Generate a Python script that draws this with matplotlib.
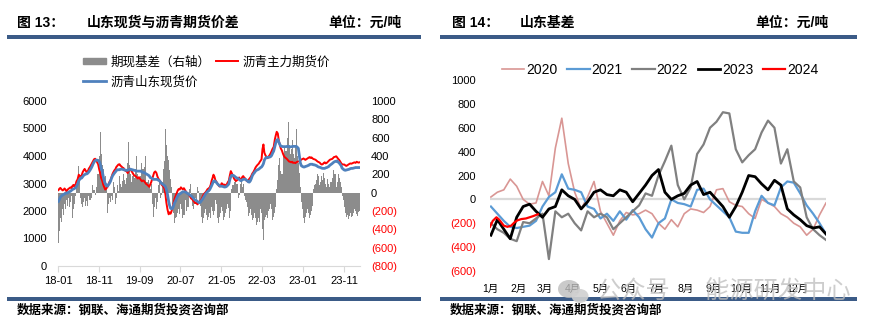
import numpy as np
import pandas as pd
import matplotlib
matplotlib.use("Agg")
import matplotlib.pyplot as plt
import matplotlib.dates as mdates
from matplotlib.patches import Rectangle, Ellipse, Patch
from matplotlib.lines import Line2D

plt.rcParams["font.family"] = ["Liberation Sans", "Noto Sans CJK SC"]

# ---------------- 图13: 山东现货与沥青期货价差 (weekly, 2018-01 .. 2024-02) -----------------
# four observations per month (1st, 8th, 15th, 22nd)
futures = [
    2760, 2810, 2840, 2790, 2750, 2770, 2820, 2780, 2720, 2760, 2800, 2830,
    2860, 2830, 2910, 2950, 2890, 2960, 3080, 3150, 3320, 3280, 3220, 3300,
    3420, 3480, 3530, 3460, 3400, 3450, 3540, 3600, 3680, 3750, 3820, 3880,
    3900, 3850, 3780, 3700, 3500, 3380, 3200, 3100, 2950, 2860, 2780, 2820,
    2880, 2950, 3050, 3120, 3250, 3350, 3420, 3480, 3520, 3600, 3640, 3690,
    3700, 3650, 3620, 3580, 3560, 3500, 3460, 3440, 3380, 3450, 3540, 3500,
    3440, 3380, 3320, 3280, 3260, 3220, 3180, 3230, 3170, 3120, 3080, 3110,
    3090, 3040, 2990, 2960, 2920, 2880, 2960, 3050, 3180, 3300, 3400, 3440,
    3380, 3260, 3180, 3120, 3040, 2960, 2920, 2880, 2800, 2600, 2300, 2050,
    1880, 1950, 1900, 2000, 2150, 2300, 2450, 2560, 2680, 2750, 2800, 2780,
    2860, 2820, 2790, 2830, 2760, 2700, 2660, 2630, 2580, 2520, 2460, 2430,
    2380, 2330, 2290, 2310, 2240, 2280, 2330, 2380, 2430, 2500, 2580, 2640,
    2680, 2730, 2790, 2820, 2860, 2950, 3100, 3200, 3320, 3250, 3120, 3060,
    2980, 2930, 2890, 2920, 3010, 2980, 2940, 2960, 2910, 2970, 3040, 3100,
    3300, 3450, 3380, 3280, 3180, 3130, 3090, 3120, 3180, 3220, 3160, 3140,
    3230, 3270, 3220, 3180, 3110, 3080, 3120, 3170, 3220, 3280, 3360, 3420,
    3500, 3580, 3630, 3680, 3720, 3780, 3830, 3880, 4250, 4420, 4120, 4020,
    3960, 3920, 3980, 4030, 4100, 4180, 4260, 4330, 4600, 4750, 4880, 4820,
    4550, 4420, 4280, 4200, 4080, 4000, 3950, 3920, 3880, 3840, 3800, 3790,
    3770, 3790, 3750, 3760, 3740, 3770, 3790, 3800, 3810, 3840, 3870, 3890,
    3910, 3880, 3860, 3890, 3920, 3940, 3960, 3930, 3950, 3920, 3890, 3880,
    3860, 3830, 3800, 3780, 3760, 3720, 3690, 3700, 3750, 3770, 3730, 3750,
    3790, 3820, 3860, 3880, 3890, 3920, 3960, 3970, 3990, 3950, 3900, 3860,
    3800, 3740, 3700, 3690, 3690, 3660, 3640, 3660, 3690, 3710, 3730, 3720,
    3740, 3760, 3770, 3750, 3790, 3770, 3760, 3770,
]
spot = [
    2350, 2420, 2500, 2550, 2580, 2600, 2620, 2650, 2650, 2650, 2680, 2700,
    2720, 2750, 2780, 2800, 2820, 2850, 2900, 2980, 3100, 3150, 3200, 3200,
    3250, 3300, 3320, 3350, 3350, 3380, 3420, 3480, 3550, 3620, 3700, 3780,
    3830, 3850, 3850, 3840, 3800, 3700, 3550, 3450, 3250, 3100, 3000, 2950,
    2900, 2950, 3000, 3080, 3200, 3280, 3330, 3380, 3420, 3470, 3500, 3500,
    3500, 3520, 3520, 3520, 3500, 3500, 3480, 3480, 3480, 3500, 3520, 3520,
    3500, 3500, 3480, 3480, 3460, 3450, 3450, 3450, 3450, 3450, 3420, 3400,
    3400, 3380, 3350, 3330, 3300, 3280, 3220, 3200, 3180, 3150, 3150, 3150,
    3150, 3150, 3120, 3100, 3050, 3000, 2980, 2950, 2920, 2880, 2780, 2600,
    2350, 2200, 2100, 2080, 2100, 2200, 2300, 2380, 2480, 2550, 2600, 2620,
    2650, 2680, 2700, 2700, 2700, 2680, 2650, 2630, 2600, 2580, 2550, 2520,
    2470, 2430, 2400, 2380, 2350, 2320, 2300, 2320, 2380, 2420, 2480, 2550,
    2620, 2660, 2700, 2730, 2780, 2850, 2920, 3000, 3080, 3100, 3080, 3030,
    2980, 2950, 2920, 2900, 2900, 2900, 2880, 2870, 2880, 2900, 2940, 2980,
    3150, 3250, 3300, 3300, 3280, 3250, 3220, 3200, 3180, 3150, 3120, 3100,
    3130, 3150, 3160, 3150, 3120, 3100, 3060, 3050, 3100, 3180, 3280, 3350,
    3400, 3450, 3480, 3500, 3520, 3550, 3580, 3600, 3650, 3720, 3850, 3920,
    3950, 3950, 3950, 3960, 3980, 4020, 4100, 4180, 4350, 4480, 4580, 4600,
    4500, 4420, 4360, 4350, 4340, 4340, 4340, 4340, 4350, 4350, 4330, 4330,
    4340, 4340, 4350, 4350, 4350, 4350, 4320, 4280, 4000, 3750, 3650, 3620,
    3600, 3600, 3620, 3630, 3650, 3660, 3690, 3700, 3700, 3700, 3680, 3680,
    3660, 3650, 3620, 3600, 3590, 3580, 3560, 3550, 3550, 3550, 3570, 3580,
    3600, 3620, 3660, 3690, 3720, 3750, 3780, 3800, 3810, 3820, 3780, 3750,
    3700, 3650, 3560, 3520, 3490, 3480, 3490, 3500, 3510, 3520, 3540, 3550,
    3550, 3560, 3570, 3580, 3580, 3580, 3580, 3580,
]
basis = [
    -550, -420, -280, -320, -180, -240, -120, -180, -80, -140, -60, -160,
    -100, -40, -280, -180, -120, -40, 60, 140, 290, 180, -60, -120,
    -160, -100, -60, -140, -90, -150, -40, -80, -60, 20, 80, 30,
    -20, 60, 140, 200, 400, 660, 420, 300, 260, 150, 180, 90,
    -220, -120, -60, -100, -40, -80, 120, 60, -120, -60, 80, 20,
    180, 100, 60, 130, 200, 140, 100, 160, 320, 550, 300, 200,
    120, 180, 220, 160, 260, 400, 200, 150, 180, 240, 320, 260,
    280, 400, 200, 120, 140, 80, 40, 100, -120, -260, -160, -60,
    -180, -100, 80, 150, -60, -20, 120, 260, 350, 690, 520, 400,
    360, 250, 150, 60, -120, -220, -330, -280, -260, -220, -180, -230,
    -120, -180, -280, -240, -80, -140, -200, -160, 40, 100, -60, -150,
    -180, -120, -60, -100, 60, 20, -80, -140, -260, -330, -280, -220,
    -180, -240, -300, -260, -220, -280, -160, -200, -240, -200, -80, -120,
    -280, -330, -260, -220, -160, -200, -300, -260, -220, -180, -120, -170,
    -280, -200, 40, 80, 120, 80, 140, 100, -60, -20, 100, 140,
    60, 100, -40, -80, -100, -160, -250, -220, -180, -240, -300, -280,
    -220, -280, -350, -320, -280, -320, -180, -220, -400, -520, -300, -260,
    -240, -280, -200, -180, -120, -180, -300, -260, -220, -160, 40, 140,
    300, 380, 240, 200, 320, 420, 500, 460, 600, 770, 520, 420,
    480, 580, 420, 380, 500, 690, 400, 320, 220, 60, -100, -180,
    -280, -330, -260, -220, -180, -220, -280, -240, -200, -140, 40, 80,
    100, 140, 200, 180, 80, 120, 180, 140, 220, 160, 100, 60,
    150, 100, 60, 120, 100, 160, 250, 200, 60, 120, 200, 160,
    120, 60, -40, -80, -160, -220, -260, -240, -290, -250, -220, -260,
    -250, -220, -180, -200, -230, -250, -210, -200,
]
months13 = pd.date_range("2018-01-01", "2024-02-01", freq="MS")
obs_days = (0, 7, 14, 21)
dates13 = pd.DatetimeIndex([m + pd.Timedelta(days=d) for m in months13 for d in obs_days])
end13 = pd.Timestamp("2024-02-29")
ticks13 = pd.date_range("2018-01-01", "2023-11-01", freq="10MS")
legend13 = ["期现基差（右轴）", "沥青山东现货价", "沥青主力期货价"]

# ---------------- 图14: 山东基差 (weekly seasonal) -----------------------------------------
basis_2020 = [20, 60, 80, 170, 110, 0, -40, -30, 150, 30, 430, 680, 300, 60, -80, 20,
              150, -100, -200, -300, -180, -110, -130, -120, -90, -120, -200, -250,
              -170, -230, -120, -80, -90, -110, -60, 80, 90, -20, -50, -60, -120,
              -160, 0, -30, -60, -120, -150, -200, -230, -300, -250, -130, -30]
basis_2021 = [-60, -120, -180, -230, -240, -230, -220, -180, -60, 20, 60, 210, 90, 80,
              60, -60, -80, -160, -120, -180, -100, -170, -90, -150, -250, -320, -200,
              -160, 0, -30, -40, -60, 80, 90, 0, -50, -100, -150, -270, -280, -280,
              -100, 30, -30, -50, 100, 150, 140, 50, -50, -120, -200, -290]
basis_2022 = [-200, -250, -280, -330, -350, -190, -200, -160, -120, -500, -100, -150,
              -120, -200, -260, -100, -150, -120, -150, -250, -200, -150, -100, -50,
              50, 30, 200, 320, 450, 120, 0, 100, 380, 460, 600, 650, 730, 720, 420,
              310, 370, 420, 560, 660, 600, 300, 420, 150, 100, -150, -250, -300, -340]
basis_2023 = [-300, -170, -250, -330, -150, -60, -40, -100, -150, -80, -60, 80, 30, 0,
              -80, -20, 60, 80, 40, 30, 80, 60, -20, 50, 120, 200, 250, 60, 0, 30, 50,
              120, 150, 40, 60, 0, -60, -150, -60, 60, 200, 190, 130, 80, 160, 120, -80,
              -130, -170, -220, -240, -230, -290]
dates_2024 = ["2024-01-01", "2024-01-04", "2024-01-08", "2024-01-11", "2024-01-16",
              "2024-01-20", "2024-01-24", "2024-01-28", "2024-01-31", "2024-02-04",
              "2024-02-09", "2024-02-13", "2024-02-17", "2024-02-22"]
basis_2024 = [-230, -180, -150, -170, -220, -230, -220, -190, -175, -165, -160, -150,
              -140, -125]
years14 = ["2020", "2021", "2022", "2023", "2024"]
colors14 = ["#D99694", "#5B9BD5", "#808080", "#000000", "#FF0000"]
widths14 = [1.2, 1.6, 1.6, 2.0, 1.6]
month_labels = [f"{m}月" for m in range(1, 13)]

# ---------------------------------------------------------------------------------------
W, H = 874, 328
fig = plt.figure(figsize=(W / 100, H / 100), dpi=100)


def fbox(x0, y0, x1, y1):
    """pixel box (top-left origin) -> figure rect"""
    return [x0 / W, 1 - y1 / H, (x1 - x0) / W, (y1 - y0) / H]


NAVY = "#3B5B87"
for x0, x1 in [(7, 421), (440, 857)]:
    for ytop in (35, 297):
        fig.add_artist(Rectangle((x0 / W, 1 - (ytop + 4) / H), (x1 - x0) / W, 4 / H,
                                 transform=fig.transFigure, color=NAVY, lw=0))

title_kw = dict(fontsize=10, fontweight="bold", va="center", color="black")
fig.text(17 / W, 1 - 23 / H, "图 13：", **title_kw)
fig.text(87 / W, 1 - 23 / H, "山东现货与沥青期货价差", **title_kw)
fig.text(402 / W, 1 - 23 / H, "单位：元/吨", ha="right", **title_kw)
fig.text(452 / W, 1 - 23 / H, "图 14：", **title_kw)
fig.text(520 / W, 1 - 23 / H, "山东基差", **title_kw)
fig.text(829 / W, 1 - 23 / H, "单位：元/吨", ha="right", **title_kw)

src_kw = dict(fontsize=9, fontweight="bold", va="center", color="black")
fig.text(17 / W, 1 - 310 / H, "数据来源：钢联、海通期货投资咨询部", **src_kw)
fig.text(450 / W, 1 - 310 / H, "数据来源：钢联、海通期货投资咨询部", **src_kw)

# ---------------- left chart ----------------
ax = fig.add_axes(fbox(58, 101, 360, 266))
axr = ax.twinx()
x13 = mdates.date2num(dates13)
edges = np.append(x13, mdates.date2num(end13))
bw = np.diff(edges)
axr.bar(x13, basis, width=bw, align="edge", color="#8C8C8C", lw=0)
ax.plot(x13 + bw / 2, futures, color="#FF0000", lw=1.4, zorder=3)
ax.plot(x13 + bw / 2, spot, color="#4F81BD", lw=2.0, zorder=4)
ax.set_zorder(axr.get_zorder() + 1)
ax.patch.set_visible(False)

ax.set_xlim(x13[0], mdates.date2num(end13))
ax.set_ylim(0, 6000)
ax.set_yticks(range(0, 6001, 1000))
axr.set_ylim(-800, 1000)
rt = list(range(-800, 1001, 200))
axr.set_yticks(rt, [f"{v}" if v >= 0 else f"({-v})" for v in rt])
for t, v in zip(axr.get_yticklabels(), rt):
    t.set_color("#FF0000" if v < 0 else "black")
ax.set_xticks(mdates.date2num(ticks13))
ax.xaxis.set_major_formatter(mdates.DateFormatter("%y-%m"))
for s in ["top", "left", "right"]:
    ax.spines[s].set_visible(False)
ax.spines["bottom"].set_color("#D9D9D9")
for s in axr.spines.values():
    s.set_visible(False)
ax.tick_params(axis="y", length=0, pad=8, labelsize=8)
ax.tick_params(axis="x", length=4, color="#D9D9D9", pad=3, labelsize=8)
axr.tick_params(axis="y", length=0, pad=8, labelsize=8)

h13 = [Patch(color="#8C8C8C"), Line2D([], [], color="#4F81BD", lw=2.0),
       Line2D([], [], color="#FF0000", lw=1.4)]
fig.legend(h13, legend13, ncol=2, loc="upper left", bbox_to_anchor=(83 / W, 1 - 56 / H),
           frameon=False, fontsize=9, borderpad=0, borderaxespad=0, handlelength=1.8,
           handleheight=0.45, handletextpad=0.4, columnspacing=0.4, labelspacing=0.6)

# ---------------- right chart ----------------
ax2 = fig.add_axes(fbox(490, 80, 826, 271))
ax2.axhline(0, color="#D9D9D9", lw=1.6, zorder=0)
series = [basis_2020, basis_2021, basis_2022, basis_2023]
for yr, vals, c, lw in zip(years14[:4], series, colors14[:4], widths14[:4]):
    d = pd.date_range(f"{yr}-01-02", periods=len(vals), freq="7D")
    doy = (d - pd.Timestamp(f"{yr}-01-01")).days
    ax2.plot(doy, vals, color=c, lw=lw, label=yr)
d24 = pd.to_datetime(dates_2024)
ax2.plot((d24 - pd.Timestamp("2024-01-01")).days, basis_2024, color=colors14[4],
         lw=widths14[4], label=years14[4])

ax2.set_xlim(0, 365)
ax2.set_ylim(-600, 1000)
mstart = pd.date_range("2023-01-01", periods=12, freq="MS").dayofyear - 1
ax2.set_xticks(mstart, month_labels)
yt = list(range(-600, 1001, 200))
ax2.set_yticks(yt, [f"{v}" if v >= 0 else f"({-v})" for v in yt])
for t, v in zip(ax2.get_yticklabels(), yt):
    t.set_color("#FF0000" if v < 0 else "black")
for s in ax2.spines.values():
    s.set_visible(False)
ax2.tick_params(axis="y", length=0, pad=10, labelsize=8)
ax2.tick_params(axis="x", length=0, pad=9, labelsize=7.5)

fig.legend(*ax2.get_legend_handles_labels(), ncol=5, loc="upper left",
           bbox_to_anchor=(502 / W, 1 - 63 / H), frameon=False, fontsize=10,
           borderpad=0, borderaxespad=0, handlelength=1.6, handletextpad=0.15,
           columnspacing=0.7)

# watermark
wm = "#BDBDBD"
fig.add_artist(Ellipse((569 / W, 1 - 289 / H), 22 / W, 18 / H, transform=fig.transFigure,
                       color=wm, alpha=0.8, lw=0))
fig.add_artist(Ellipse((580 / W, 1 - 296 / H), 17 / W, 14 / H, transform=fig.transFigure,
                       color="#D0D0D0", alpha=0.9, lw=0))
fig.text(597 / W, 1 - 292 / H, "公众号 · 能源研发中心", fontsize=17.5, color=wm,
         alpha=0.75, va="center", family=["Noto Sans CJK SC"], zorder=10)

fig.savefig("out.png", dpi=100)
